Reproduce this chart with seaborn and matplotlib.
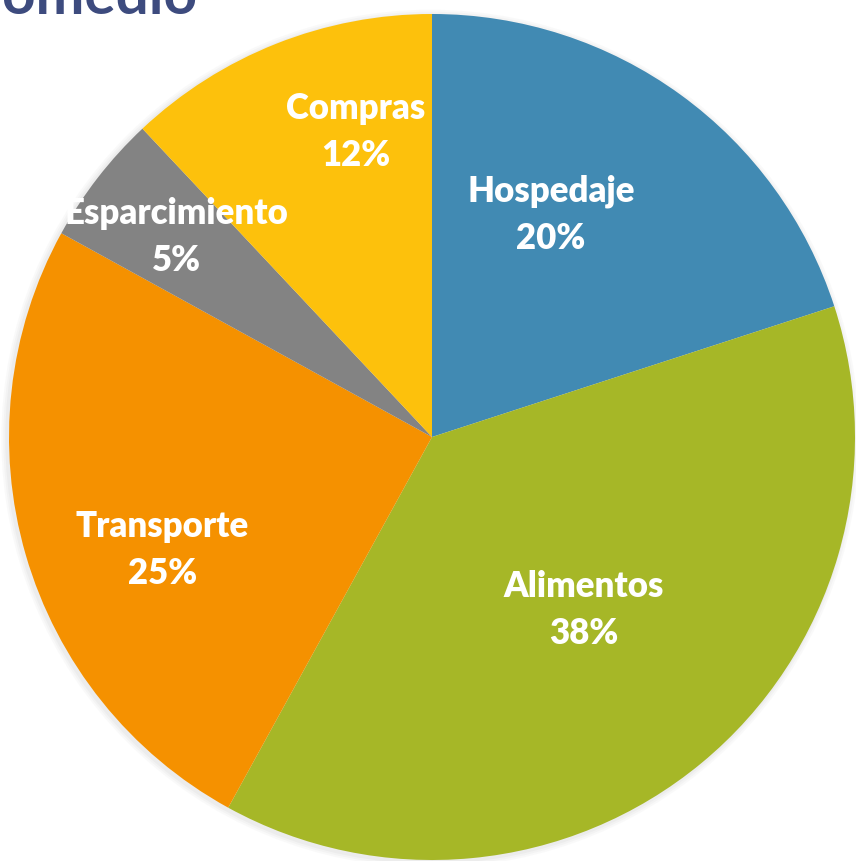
import matplotlib
matplotlib.use("Agg")
import matplotlib.pyplot as plt
import seaborn as sns

categorias = ["Hospedaje", "Alimentos", "Transporte", "Esparcimiento", "Compras"]
porcentajes = [20, 38, 25, 5, 12]
colores = ["#418AB3", "#A6B727", "#F59100", "#838383", "#FDC10C"]
titulo = "Gasto promedio"

# label centres in pie units (radius = 1)
pos_etiquetas = [(0.281, 0.525), (0.359, -0.409), (-0.638, -0.267),
                 (-0.603, 0.473), (-0.180, 0.721)]

sns.set_theme(style="white")
plt.rcParams["font.family"] = ["Lato", "DejaVu Sans"]

W, H = 856, 861
fig = plt.figure(figsize=(W / 100, H / 100), dpi=100)
ax = fig.add_axes([0, 0, 1, 1])

R = 423.0
cx, cy = 432.0, 437.0

# soft shadow behind the pie
for k, a in [(6, 0.05), (4, 0.06), (2, 0.08)]:
    ax.add_patch(plt.Circle((-0.004, -0.004), 1 + k / R, color="#9a9a9a",
                            alpha=a, lw=0, zorder=0))

ax.pie(porcentajes, colors=colores, startangle=90, counterclock=False,
       radius=1, wedgeprops=dict(linewidth=0), frame=True)

for cat, pct, (x, y) in zip(categorias, porcentajes, pos_etiquetas):
    ax.text(x, y, f"{cat}\n{pct}%", ha="center", va="center", color="white",
            fontsize=25, fontweight="heavy", linespacing=1.5, zorder=5)

ax.set_xlim(-cx / R, (W - cx) / R)
ax.set_ylim(-(H - cy) / R, cy / R)
ax.set_aspect("auto")
ax.axis("off")

fig.text(197 / W, 1 - 14 / H, titulo, ha="right", va="baseline",
         fontsize=42, fontweight="bold", color="#3D4B7E")

fig.savefig("out.png", dpi=100)
